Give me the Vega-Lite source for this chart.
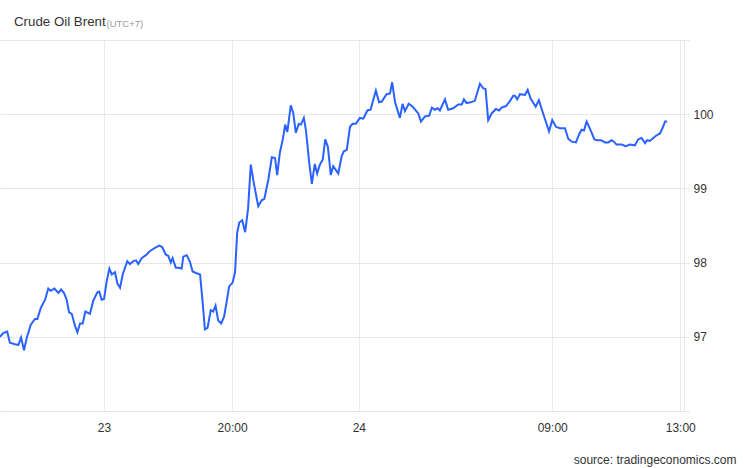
{
  "$schema": "https://vega.github.io/schema/vega-lite/v6.json",
  "autosize": {"type": "none"},
  "width": 684,
  "height": 371,
  "padding": {"left": 0, "top": 40, "right": 62, "bottom": 57},
  "background": "white",
  "title": {"text": "Crude Oil Brent", "anchor": "start", "frame": "group", "dx": 14, "dy": 36, "offset": 15, "baseline": "alphabetic", "fontSize": 13.3, "fontWeight": "normal", "color": "#333333", "font": "Liberation Sans"},
  "config": {"view": {"stroke": null}},
  "data": {"values": [
    {"t":0,"v":97.00},{"t":1.2,"v":97.05},{"t":2.7,"v":97.07},{"t":3.7,"v":96.92},{"t":5.6,"v":96.90},{"t":6.9,"v":96.89},{"t":7.9,"v":96.99},{"t":9.0,"v":96.82},{"t":10.0,"v":96.98},{"t":11.5,"v":97.16},{"t":13.1,"v":97.24},{"t":14.0,"v":97.24},{"t":15.3,"v":97.39},{"t":16.9,"v":97.50},{"t":18.1,"v":97.65},{"t":19.0,"v":97.62},{"t":20.4,"v":97.65},{"t":21.9,"v":97.59},{"t":22.9,"v":97.64},{"t":24.0,"v":97.59},{"t":25.0,"v":97.50},{"t":25.9,"v":97.33},{"t":26.9,"v":97.31},{"t":28.1,"v":97.15},{"t":29.0,"v":97.06},{"t":30.0,"v":97.18},{"t":31.0,"v":97.18},{"t":32.0,"v":97.34},{"t":33.7,"v":97.31},{"t":35.0,"v":97.49},{"t":36.5,"v":97.60},{"t":37.2,"v":97.61},{"t":38.1,"v":97.50},{"t":39.0,"v":97.51},{"t":40.0,"v":97.75},{"t":41.0,"v":97.92},{"t":41.9,"v":97.84},{"t":43.1,"v":97.87},{"t":44.0,"v":97.72},{"t":45.0,"v":97.66},{"t":46.0,"v":97.84},{"t":47.7,"v":98.02},{"t":48.7,"v":97.98},{"t":50.0,"v":98.02},{"t":51.0,"v":98.03},{"t":51.8,"v":97.98},{"t":53.1,"v":98.06},{"t":55.0,"v":98.11},{"t":56.0,"v":98.15},{"t":58.1,"v":98.20},{"t":59.7,"v":98.23},{"t":60.8,"v":98.21},{"t":62.1,"v":98.11},{"t":63.1,"v":98.09},{"t":64.0,"v":98.00},{"t":64.7,"v":98.06},{"t":65.9,"v":97.93},{"t":66.8,"v":97.93},
    {"t":68.1,"v":97.92},{"t":68.7,"v":98.08},{"t":70.0,"v":98.10},{"t":71.2,"v":98.01},{"t":72.2,"v":97.88},{"t":73.5,"v":97.86},{"t":75.0,"v":97.84},{"t":76.0,"v":97.45},{"t":76.8,"v":97.10},{"t":77.8,"v":97.12},{"t":79.0,"v":97.36},{"t":79.9,"v":97.34},{"t":80.8,"v":97.42},{"t":81.8,"v":97.22},{"t":82.9,"v":97.18},{"t":84.0,"v":97.27},{"t":85.0,"v":97.48},{"t":85.9,"v":97.68},{"t":87.2,"v":97.73},{"t":88.1,"v":97.87},{"t":88.9,"v":98.40},{"t":89.7,"v":98.54},{"t":90.8,"v":98.57},{"t":91.9,"v":98.41},{"t":93.0,"v":98.73},{"t":94.0,"v":99.32},{"t":95.2,"v":99.06},{"t":96.8,"v":98.76},{"t":98.1,"v":98.84},{"t":99.1,"v":98.86},{"t":100.6,"v":99.12},{"t":101.9,"v":99.42},{"t":103.1,"v":99.41},{"t":103.9,"v":99.18},{"t":104.9,"v":99.48},{"t":106.0,"v":99.66},{"t":106.9,"v":99.86},{"t":107.7,"v":99.76},{"t":109.0,"v":100.12},{"t":109.9,"v":100.02},{"t":110.9,"v":99.75},{"t":112.0,"v":99.87},{"t":112.8,"v":99.86},{"t":113.9,"v":99.95},{"t":114.7,"v":99.78},{"t":115.9,"v":99.35},{"t":116.9,"v":99.06},{"t":118.0,"v":99.33},{"t":118.9,"v":99.20},{"t":119.9,"v":99.32},{"t":121.0,"v":99.39},{"t":121.9,"v":99.66},{"t":122.9,"v":99.56},{"t":124.0,"v":99.18},{"t":124.9,"v":99.30},{"t":126.8,"v":99.20},{"t":128.1,"v":99.44},{"t":128.9,"v":99.50},{"t":130.0,"v":99.52},{"t":131.2,"v":99.83},{"t":132.2,"v":99.87},{"t":133.4,"v":99.87},
    {"t":134.9,"v":99.95},{"t":136.2,"v":99.94},{"t":137.7,"v":100.05},{"t":138.9,"v":100.06},{"t":140.9,"v":100.32},{"t":142.1,"v":100.16},{"t":143.1,"v":100.17},{"t":144.9,"v":100.27},{"t":146.2,"v":100.28},{"t":147.0,"v":100.43},{"t":148.1,"v":100.16},{"t":149.9,"v":99.95},{"t":150.9,"v":100.14},{"t":151.8,"v":100.04},{"t":153.2,"v":100.14},{"t":154.7,"v":100.10},{"t":156.8,"v":100.01},{"t":157.8,"v":99.90},{"t":159.3,"v":99.97},{"t":160.9,"v":99.98},{"t":161.9,"v":100.09},{"t":163.0,"v":100.06},{"t":164.1,"v":100.08},{"t":164.9,"v":100.05},{"t":166.8,"v":100.20},{"t":168.0,"v":100.06},{"t":169.9,"v":100.08},{"t":171.8,"v":100.13},{"t":173.1,"v":100.13},{"t":173.9,"v":100.20},{"t":174.9,"v":100.15},{"t":176.4,"v":100.16},{"t":178.0,"v":100.18},{"t":179.9,"v":100.41},{"t":181.1,"v":100.35},{"t":182.0,"v":100.34},{"t":183.0,"v":99.92},{"t":184.3,"v":100.01},{"t":185.9,"v":100.07},{"t":187.1,"v":100.05},{"t":188.0,"v":100.09},{"t":189.7,"v":100.11},{"t":191.2,"v":100.18},{"t":192.4,"v":100.25},{"t":193.0,"v":100.25},{"t":193.9,"v":100.20},{"t":194.9,"v":100.27},{"t":196.8,"v":100.26},{"t":197.8,"v":100.33},{"t":198.9,"v":100.21},{"t":200.8,"v":100.10},{"t":202.0,"v":100.19},{"t":203.6,"v":100.01},
    {"t":205.8,"v":99.77},{"t":207.0,"v":99.92},{"t":208.4,"v":99.83},{"t":209.9,"v":99.81},{"t":211.8,"v":99.81},{"t":213.0,"v":99.67},{"t":214.3,"v":99.63},{"t":215.9,"v":99.62},{"t":217.1,"v":99.73},{"t":218.0,"v":99.79},{"t":218.9,"v":99.78},{"t":219.9,"v":99.90},{"t":221.1,"v":99.81},{"t":222.8,"v":99.66},{"t":223.9,"v":99.65},{"t":225.3,"v":99.65},{"t":226.8,"v":99.62},{"t":228.0,"v":99.62},{"t":229.3,"v":99.65},{"t":230.1,"v":99.63},{"t":231.1,"v":99.59},{"t":233.0,"v":99.59},{"t":234.6,"v":99.57},{"t":236.1,"v":99.59},{"t":238.0,"v":99.58},{"t":239.2,"v":99.66},{"t":240.5,"v":99.68},{"t":241.8,"v":99.61},{"t":242.6,"v":99.65},{"t":243.6,"v":99.64},{"t":244.9,"v":99.68},{"t":245.9,"v":99.71},{"t":247.4,"v":99.74},{"t":248.2,"v":99.80},{"t":249.3,"v":99.90},{"t":250.1,"v":99.90}
  ]},
  "mark": {"type": "line", "color": "#2962ff", "strokeWidth": 2, "interpolate": "linear"},
  "encoding": {
    "x": {
      "field": "t", "type": "quantitative",
      "scale": {"domain": [0, 256.4], "nice": false, "zero": false},
      "axis": {
        "orient": "bottom",
        "values": [39, 87, 134.5, 207, 255],
        "labelExpr": "datum.value == 39 ? '23' : datum.value == 87 ? '20:00' : datum.value == 134.5 ? '24' : datum.value == 207 ? '09:00' : '13:00'",
        "grid": true, "gridColor": "#ebebeb", "gridWidth": 1,
        "domain": true, "domainColor": "#e6e6e6", "domainWidth": 1,
        "ticks": false, "tickSize": 0,
        "labelPadding": 11, "labelFontSize": 12, "labelColor": "#333333", "labelFont": "Liberation Sans", "labelAlign": "center",
        "title": "source: tradingeconomics.com",
        "titleFont": "Liberation Sans", "titleFontSize": 12, "titleFontWeight": "normal", "titleColor": "#333333",
        "titleAnchor": "end", "titleAlign": "right", "titleBaseline": "alphabetic",
        "titleX": 736, "titleY": 52
      }
    },
    "y": {
      "field": "v", "type": "quantitative",
      "scale": {"domain": [96, 101], "nice": false, "zero": false},
      "axis": {
        "orient": "right",
        "values": [96, 97, 98, 99, 100, 101],
        "labelExpr": "datum.value == 96 || datum.value == 101 ? '' : datum.label",
        "grid": true, "gridColor": "#e6e6e6", "gridWidth": 1,
        "domain": true, "domainColor": "#e6e6e6", "domainWidth": 1,
        "ticks": true, "tickColor": "#e6e6e6", "tickSize": 5,
        "labelPadding": 4, "labelFontSize": 12, "labelColor": "#333333", "labelFont": "Liberation Sans",
        "title": "(UTC+7)",
        "titleFont": "Liberation Sans", "titleFontSize": 9.5, "titleFontWeight": "normal", "titleColor": "#999999",
        "titleAngle": 0, "titleAlign": "left", "titleBaseline": "alphabetic",
        "titleX": -578, "titleY": -14
      }
    }
  }
}
